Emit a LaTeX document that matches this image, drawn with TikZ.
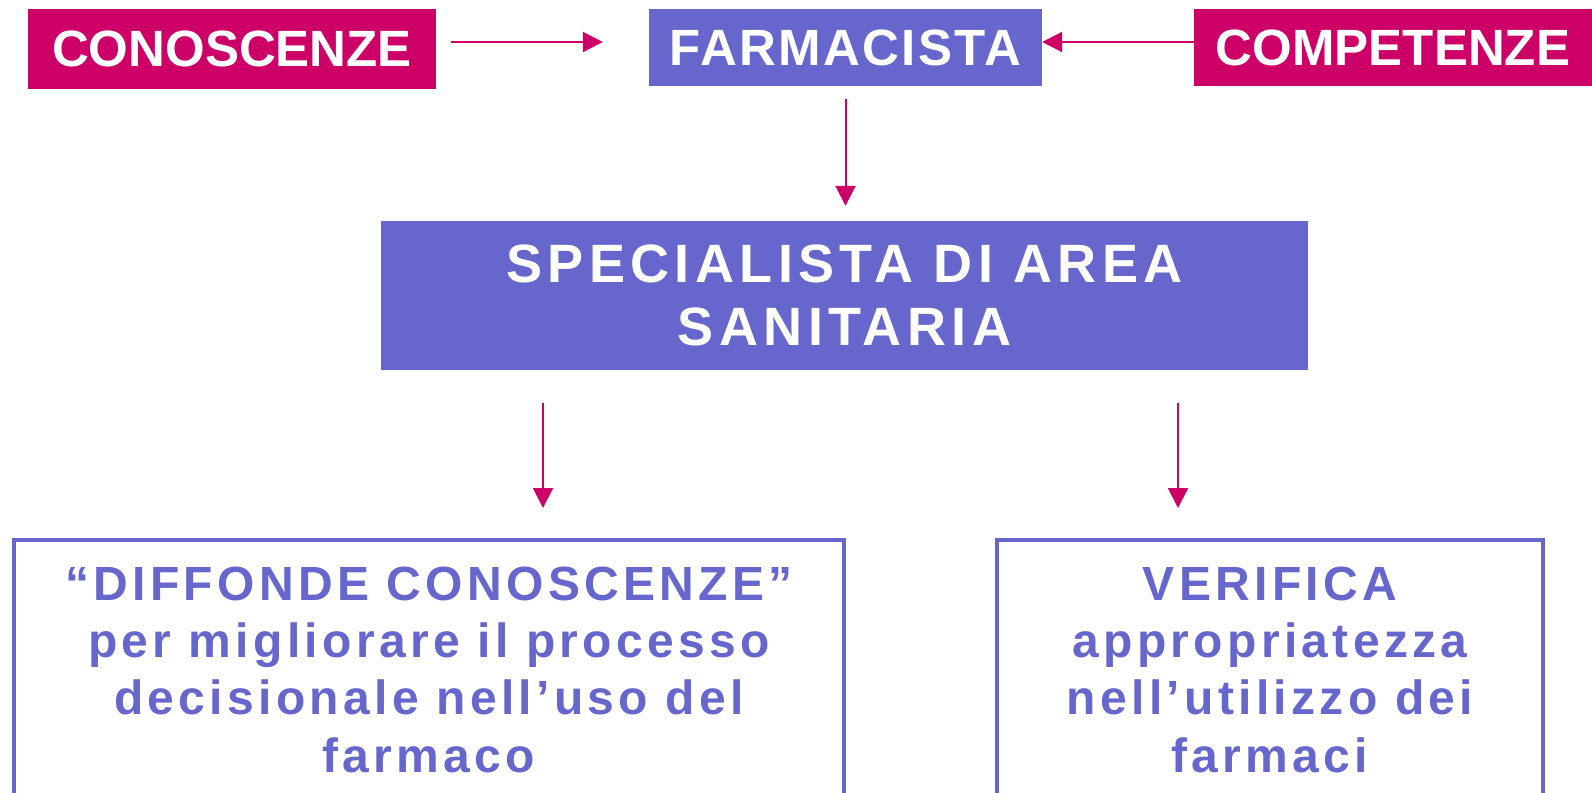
\documentclass[tikz,border=0pt]{standalone}
\usepackage{fontspec}
\setmainfont{Liberation Sans}
\newfontfamily\spacedfont[LetterSpace=9]{Liberation Sans}
\newfontfamily\specfont[LetterSpace=10]{Liberation Sans}
\newfontfamily\lightspaced[LetterSpace=4.5]{Liberation Sans}
\usetikzlibrary{arrows.meta}
\definecolor{mag}{HTML}{CC0066}
\definecolor{blu}{HTML}{6666CC}
\begin{document}
\begin{tikzpicture}[x=1pt,y=-1pt,
  magbox/.style={fill=mag,text=white,inner sep=0pt,font=\bfseries\fontsize{51}{58}\selectfont},
  blubox/.style={fill=blu,text=white,inner sep=0pt,align=center},
  outbox/.style={draw=blu,line width=4pt,inner sep=0pt,anchor=north west},
  outtext/.style={text=blu,align=center,inner sep=0pt,anchor=base,font=\spacedfont\bfseries\fontsize{48}{57.3}\selectfont},
  conn/.style={draw=mag,line width=2pt,-{Triangle[length=20pt,width=20pt]}}]
\useasboundingbox (0,0) rectangle (1592,792);
\clip (0,0) rectangle (1592,792);
\node[magbox,minimum width=408pt,minimum height=80pt] (con) at (232,49) {CONOSCENZE};
\node[blubox,minimum width=393pt,minimum height=77pt,font=\lightspaced\bfseries\fontsize{51}{58}\selectfont] (far) at (845.5,47.5) {FARMACISTA};
\node[magbox,minimum width=398pt,minimum height=77pt] (com) at (1393,47.5) {COMPETENZE};
\node[blubox,minimum width=927pt,minimum height=149pt,font=\specfont\bfseries\fontsize{54}{63}\selectfont] (spec) at (844.5,295.5) {SPECIALISTA DI AREA\\SANITARIA};
\node[outbox,minimum width=830pt,minimum height=300pt] (left) at (12,538) {};
\node[outbox,minimum width=546pt,minimum height=300pt] (right) at (995,538) {};
\node[outtext] (lt) at (429,772) {“DIFFONDE CONOSCENZE”\\per migliorare il processo\\decisionale nell’uso del\\farmaco};
\node[outtext] (rt) at (1270,772) {VERIFICA\\appropriatezza\\nell’utilizzo dei\\farmaci};
\coordinate (x1) at (543,0);
\coordinate (x2) at (1178,0);
\draw[conn,shorten <=15pt,shorten >=46pt] ([yshift=7pt]con.east) -- ([yshift=5.5pt]far.west);
\draw[conn] ([yshift=5.5pt]com.west) -- ([yshift=5.5pt]far.east);
\draw[conn,shorten <=13pt,shorten >=15pt] (far.south) -- (far.south |- spec.north);
\draw[conn,shorten <=33pt,shorten >=30pt] (spec.south -| x1) -- (left.north -| x1);
\draw[conn,shorten <=33pt,shorten >=30pt] (spec.south -| x2) -- (right.north -| x2);
\end{tikzpicture}
\end{document}
